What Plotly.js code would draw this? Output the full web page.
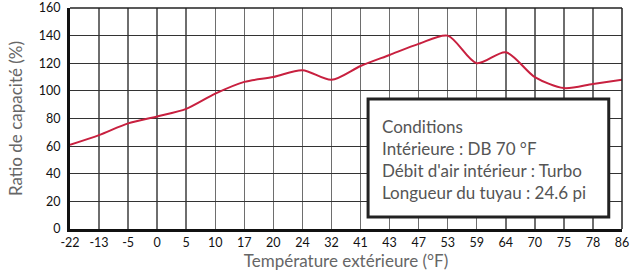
<!DOCTYPE html>
<html>
<head>
<meta charset="utf-8">
<script src="https://cdn.plot.ly/plotly-3.0.1.min.js"></script>
<style>html,body{margin:0;padding:0;background:#fff;}#chart{width:637px;height:273px;}</style>
</head>
<body>
<div id="chart"></div>
<script>
const categories = ["-22","-13","-5","0","5","10","17","20","24","32","41","43","47","53","59","64","70","75","78","86"];
const capacityRatio = [61, 68, 76.5, 81.5, 87, 98, 106.5, 110, 115, 108, 118, 126, 134, 140, 120, 128, 110, 102, 105, 108];
const yTicks = [0, 20, 40, 60, 80, 100, 120, 140, 160];
const conditionLines = ["Conditions", "Intérieure : DB 70 °F", "Débit d'air intérieur : Turbo", "Longueur du tuyau : 24.6 pi"];

const FONT = "Lato, 'Open Sans', sans-serif";
const trace = {
  x: categories,
  y: capacityRatio,
  type: "scatter",
  mode: "lines",
  line: {color: "#c8203f", width: 2, shape: "spline", smoothing: 0.8},
  hoverinfo: "x+y"
};

const lineYs = [0.466, 0.366, 0.266, 0.166];
const annotations = conditionLines.map((t, i) => ({
  xref: "paper", yref: "paper",
  x: 0.561, y: lineYs[i],
  xanchor: "left", yanchor: "middle",
  text: t, showarrow: false,
  font: {family: FONT, size: 17, color: "#555"}
}));

const layout = {
  width: 637, height: 273,
  margin: {l: 70, r: 15, t: 8, b: 44},
  paper_bgcolor: "#fff", plot_bgcolor: "#fff",
  showlegend: false,
  xaxis: {
    type: "category",
    range: [0, categories.length - 1],
    tickvals: categories,
    ticktext: categories,
    showgrid: true, gridcolor: "#6e6e6e", gridwidth: 1.5,
    showline: true, linecolor: "#111", linewidth: 3,
    ticks: "", tickfont: {family: FONT, size: 12.5, color: "#111"},
    zeroline: false,
    title: {text: "Température extérieure (°F)", font: {family: FONT, size: 17, color: "#666"}, standoff: 5}
  },
  yaxis: {
    range: [0, 160],
    tickvals: yTicks,
    showgrid: true, gridcolor: "#333", gridwidth: 1.2,
    showline: true, linecolor: "#111", linewidth: 3,
    ticks: "", tickfont: {family: FONT, size: 12.5, color: "#111"},
    zeroline: false,
    ticklabelstandoff: 4,
    title: {text: "Ratio de capacité (%)", font: {family: FONT, size: 17, color: "#666"}, standoff: 12}
  },
  shapes: [
    {type: "line", xref: "paper", yref: "paper", x0: 0, x1: 1, y0: 1, y1: 1, line: {color: "#222", width: 1.5}},
    {type: "line", xref: "paper", yref: "paper", x0: 1, x1: 1, y0: 0, y1: 1, line: {color: "#222", width: 1.5}},
    {type: "rect", xref: "paper", yref: "paper", x0: 0.540, x1: 0.976, y0: 0.054, y1: 0.588,
     fillcolor: "#fff", line: {color: "#222", width: 3}, layer: "above"}
  ],
  annotations: annotations
};

Plotly.newPlot("chart", [trace], layout, {displayModeBar: false, staticPlot: true});
</script>
</body>
</html>
